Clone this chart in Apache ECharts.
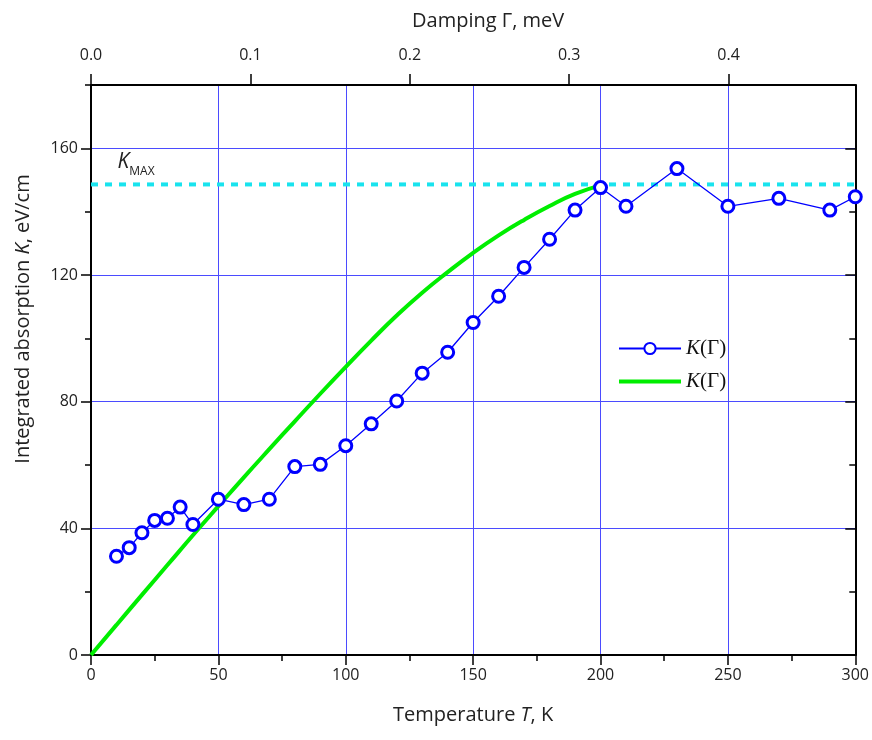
<!DOCTYPE html>
<html>
<head>
<meta charset="utf-8">
<script src="https://cdn.jsdelivr.net/npm/echarts@6/dist/echarts.min.js"></script>
<style>html,body{margin:0;padding:0;background:#fff}#c{width:872px;height:740px}</style>
</head>
<body>
<div id="c"></div>
<script>
// Experimental points: temperature (K) and integrated absorption (eV/cm)
const T_exp = [10,15,20,25,30,35,40,50,60,70,80,90,100,110,120,130,140,150,160,170,180,190,200,210,230,250,270,290,300];
const K_exp = [31.2,33.9,38.6,42.5,43.2,46.7,41.2,49.2,47.5,49.2,59.5,60.2,66.1,73.0,80.2,89.0,95.6,105.0,113.3,122.4,131.3,140.5,147.6,141.7,153.6,141.7,144.2,140.5,144.7];
// Model curve K(Γ)
const T_fit = [0,10,20,30,40,50,60,70,80,90,100,110,120,130,140,150,160,170,180,190,200];
const K_fit = [0,9.5,19.0,28.4,37.8,47.0,56.1,65.0,73.8,82.5,91.0,99.3,107.2,114.4,120.9,127.0,132.5,137.4,141.8,145.6,148.3];
// K_MAX level
const T_kmax = [0,300];
const K_kmax = [148.6,148.6];
// Tick labels
const xTicks = [0,50,100,150,200,250,300];
const yTicks = [0,40,80,120,160];
const gTicks = [0,0.1,0.2,0.3,0.4];

const FONT = 'Open Sans';
const GRID = '#4b4bff';
const chart = echarts.init(document.getElementById('c'), null, {renderer:'canvas'});
const zip = (a,b)=>a.map((v,i)=>[v,b[i]]);

chart.setOption({
  animation:false,
  backgroundColor:'#fff',
  grid:{left:91, right:16, top:85, bottom:85, containLabel:false},
  legend:{
    left:612, top:333, orient:'vertical', itemGap:12, itemWidth:62, itemHeight:14,
    data:[{name:'exp'}, {name:'fit', itemStyle:{opacity:0}, lineStyle:{width:4, color:'#00ee00'}}],
    formatter: ()=> '{i|K}{n|(Γ)}',
    textStyle:{rich:{i:{fontFamily:'Liberation Serif', fontStyle:'italic', fontSize:21, color:'#111'},
                     n:{fontFamily:'Liberation Serif', fontSize:21, color:'#111'}}}
  },
  xAxis:[
    {type:'value', position:'bottom', min:0, max:300, interval:50,
     name:'{n|Temperature }{i|T}{n|, K}', nameLocation:'middle', nameGap:50,
     nameTextStyle:{rich:{n:{fontFamily:FONT, fontSize:20, color:'#222'}, i:{fontFamily:FONT, fontSize:20, fontStyle:'italic', color:'#222'}}},
     axisLine:{show:true, onZero:false, lineStyle:{color:'#000', width:2}},
     axisTick:{show:true, inside:false, length:10, lineStyle:{color:'#000', width:1.5}},
     axisLabel:{margin:12, fontFamily:FONT, fontSize:16, color:'#222'},
     splitLine:{show:true, lineStyle:{color:GRID, width:1}}},
    {type:'value', position:'bottom', min:0, max:300, interval:25,
     axisLine:{show:false, onZero:false}, axisLabel:{show:false}, splitLine:{show:false},
     axisTick:{show:true, inside:false, length:6, lineStyle:{color:'#000', width:1.5}}},
    {type:'value', position:'top', min:0, max:0.4795, interval:0.1,
     name:'Damping Γ, meV', nameLocation:'middle', nameGap:54,
     nameTextStyle:{fontFamily:FONT, fontSize:20, color:'#222', padding:[0,0,0,30]},
     axisLine:{show:true, onZero:false, lineStyle:{color:'#000', width:2}},
     axisTick:{show:true, inside:false, length:11, lineStyle:{color:'#000', width:1.5}, customValues:gTicks},
     axisLabel:{margin:22, fontFamily:FONT, fontSize:16, color:'#222', customValues:gTicks,
       formatter:v=>v.toFixed(1)},
     splitLine:{show:false}}
  ],
  yAxis:[
    {type:'value', position:'left', min:0, max:180, interval:40,
     name:'{n|Integrated absorption }{i|K}{n|, eV/cm}', nameLocation:'middle', nameGap:58,
     nameTextStyle:{padding:[0,0,0,102], rich:{n:{fontFamily:FONT, fontSize:20, color:'#222'}, i:{fontFamily:FONT, fontSize:20, fontStyle:'italic', color:'#222'}}},
     axisLine:{show:true, onZero:false, lineStyle:{color:'#000', width:2}},
     axisTick:{show:true, inside:false, length:10, lineStyle:{color:'#000', width:1.5}, customValues:yTicks},
     axisLabel:{margin:13, fontFamily:FONT, fontSize:16, color:'#222', customValues:yTicks},
     splitLine:{show:true, lineStyle:{color:GRID, width:1}}},
    {type:'value', position:'left', min:0, max:180, interval:20,
     axisLine:{show:false, onZero:false}, axisLabel:{show:false}, splitLine:{show:false},
     axisTick:{show:true, inside:false, length:6, lineStyle:{color:'#000', width:1.5}}},
    {type:'value', position:'right', min:0, max:180, interval:40,
     axisLine:{show:true, onZero:false, lineStyle:{color:'#000', width:2}},
     axisTick:{show:true, inside:true, length:10, lineStyle:{color:'#000', width:1.5}, customValues:yTicks},
     axisLabel:{show:false}, splitLine:{show:false}},
    {type:'value', position:'right', min:0, max:180, interval:20,
     axisLine:{show:false, onZero:false}, axisLabel:{show:false}, splitLine:{show:false},
     axisTick:{show:true, inside:true, length:6, lineStyle:{color:'#000', width:1.5}}}
  ],
  series:[
    {name:'kmax', type:'line', xAxisIndex:0, yAxisIndex:0, data:zip(T_kmax,K_kmax), symbol:'none', silent:true, z:1,
     lineStyle:{color:'#19e3ee', width:4, type:[7,7]},
     markPoint:{
       silent:true, symbol:'circle', symbolSize:1, itemStyle:{color:'rgba(0,0,0,0)'},
       data:[{coord:[T_kmax[0], K_kmax[0]], value:K_kmax[0]}],
       label:{show:true, position:'right', offset:[21,-22], formatter:'{k|K}{s|MAX}',
         rich:{k:{fontFamily:FONT, fontStyle:'italic', fontSize:21, color:'#222', lineHeight:24},
               s:{fontFamily:FONT, fontSize:12, color:'#222', padding:[18,0,0,0]}}}
     }},
    {name:'exp', type:'line', xAxisIndex:0, yAxisIndex:0, data:zip(T_exp,K_exp), z:4,
     symbol:'circle', symbolSize:12,
     itemStyle:{color:'#fff', borderColor:'#0000ff', borderWidth:3},
     lineStyle:{color:'#0000ff', width:1.3}},
    {name:'fit', type:'line', xAxisIndex:0, yAxisIndex:0, data:zip(T_fit,K_fit), z:3,
     symbol:'none', smooth:true, itemStyle:{color:'#00ee00'},
     lineStyle:{color:'#00ee00', width:4}}
  ]
});
</script>
</body>
</html>
